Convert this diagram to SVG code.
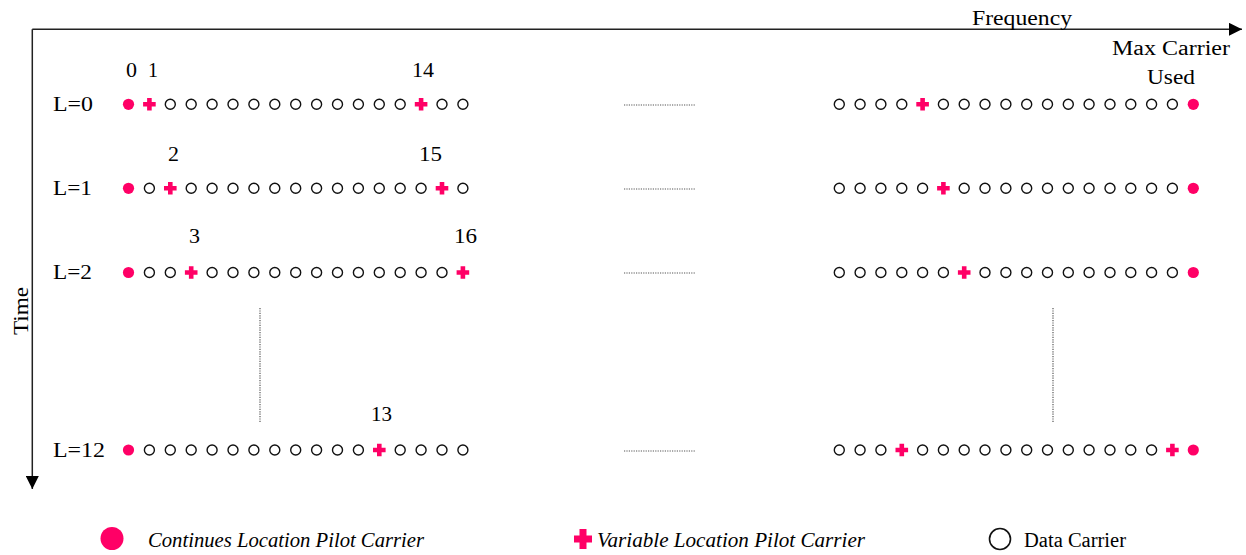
<svg xmlns="http://www.w3.org/2000/svg" xmlns:xlink="http://www.w3.org/1999/xlink" width="1246" height="555" viewBox="0 0 1246 555">
<style>
.t{font-family:"Liberation Serif","Times New Roman",serif;font-size:20px;fill:#000}
.i{font-style:italic}
.data{fill:none;stroke:#111;stroke-width:1.4}
.pil{fill:#FF0066}
.axis{stroke:#222;stroke-width:1.5;fill:none}
.dot{stroke:#555;stroke-width:1.2;stroke-dasharray:1.2 1.2;fill:none}
</style>
<defs>
<circle id="d" r="5" class="data"/>
<circle id="p" r="5.6" class="pil"/>
<path id="v" class="pil" d="M-2.3,-6.3H2.3V-2.3H6.3V2.3H2.3V6.3H-2.3V2.3H-6.3V-2.3H-2.3Z"/>
<marker id="ah" viewBox="0 0 10 10" refX="10" refY="5" markerWidth="13" markerHeight="13" markerUnits="userSpaceOnUse" orient="auto"><path d="M0,0L10,5L0,10Z" fill="#000"/></marker>
</defs>
<rect width="1246" height="555" fill="#fff"/>
<g id="connectors">
<path class="axis" d="M32.3,29.3H1242" marker-end="url(#ah)"/>
<path class="axis" d="M32.3,29.3V489" marker-end="url(#ah)"/>
<path class="dot" d="M624,105H696"/>
<path class="dot" d="M624,189H696"/>
<path class="dot" d="M624,273H696"/>
<path class="dot" d="M624,451H696"/>
<path class="dot" d="M260,308V422"/>
<path class="dot" d="M1053,308V422"/>
</g>
<g id="axis-labels">
<text class="t" x="972" y="25" textLength="100" lengthAdjust="spacingAndGlyphs">Frequency</text>
<text class="t" x="1112" y="55" textLength="118" lengthAdjust="spacingAndGlyphs">Max Carrier</text>
<text class="t" x="1147" y="84" textLength="48" lengthAdjust="spacingAndGlyphs">Used</text>
<text class="t" transform="translate(28,335) rotate(-90)" textLength="48" lengthAdjust="spacingAndGlyphs">Time</text>
</g>
<g id="row-L0">
<text class="t" x="53" y="111" textLength="40" lengthAdjust="spacingAndGlyphs">L=0</text>
<text class="t" x="126" y="77" textLength="11" lengthAdjust="spacingAndGlyphs">0</text>
<text class="t" x="148" y="77" textLength="10" lengthAdjust="spacingAndGlyphs">1</text>
<text class="t" x="412" y="77" textLength="22" lengthAdjust="spacingAndGlyphs">14</text>
<g transform="translate(0,104.3)">
<use href="#p" x="128.5"/><use href="#v" x="149.4"/><use href="#d" x="170.3"/><use href="#d" x="191.2"/><use href="#d" x="212.1"/><use href="#d" x="233"/><use href="#d" x="253.9"/><use href="#d" x="274.8"/><use href="#d" x="295.7"/><use href="#d" x="316.6"/><use href="#d" x="337.5"/><use href="#d" x="358.4"/><use href="#d" x="379.3"/><use href="#d" x="400.2"/><use href="#v" x="421.1"/><use href="#d" x="442"/><use href="#d" x="462.9"/>
<use href="#d" x="839.3"/><use href="#d" x="860.1"/><use href="#d" x="880.9"/><use href="#d" x="901.8"/><use href="#v" x="922.6"/><use href="#d" x="943.4"/><use href="#d" x="964.2"/><use href="#d" x="985"/><use href="#d" x="1005.9"/><use href="#d" x="1026.7"/><use href="#d" x="1047.5"/><use href="#d" x="1068.3"/><use href="#d" x="1089.1"/><use href="#d" x="1110"/><use href="#d" x="1130.8"/><use href="#d" x="1151.6"/><use href="#d" x="1172.4"/><use href="#p" x="1193.3"/>
</g>
</g>
<g id="row-L1">
<text class="t" x="53" y="195" textLength="39" lengthAdjust="spacingAndGlyphs">L=1</text>
<text class="t" x="168" y="161" textLength="11" lengthAdjust="spacingAndGlyphs">2</text>
<text class="t" x="419" y="161" textLength="23" lengthAdjust="spacingAndGlyphs">15</text>
<g transform="translate(0,188.3)">
<use href="#p" x="128.5"/><use href="#d" x="149.4"/><use href="#v" x="170.3"/><use href="#d" x="191.2"/><use href="#d" x="212.1"/><use href="#d" x="233"/><use href="#d" x="253.9"/><use href="#d" x="274.8"/><use href="#d" x="295.7"/><use href="#d" x="316.6"/><use href="#d" x="337.5"/><use href="#d" x="358.4"/><use href="#d" x="379.3"/><use href="#d" x="400.2"/><use href="#d" x="421.1"/><use href="#v" x="442"/><use href="#d" x="462.9"/>
<use href="#d" x="839.3"/><use href="#d" x="860.1"/><use href="#d" x="880.9"/><use href="#d" x="901.8"/><use href="#d" x="922.6"/><use href="#v" x="943.4"/><use href="#d" x="964.2"/><use href="#d" x="985"/><use href="#d" x="1005.9"/><use href="#d" x="1026.7"/><use href="#d" x="1047.5"/><use href="#d" x="1068.3"/><use href="#d" x="1089.1"/><use href="#d" x="1110"/><use href="#d" x="1130.8"/><use href="#d" x="1151.6"/><use href="#d" x="1172.4"/><use href="#p" x="1193.3"/>
</g>
</g>
<g id="row-L2">
<text class="t" x="53" y="279" textLength="39" lengthAdjust="spacingAndGlyphs">L=2</text>
<text class="t" x="189" y="243" textLength="11" lengthAdjust="spacingAndGlyphs">3</text>
<text class="t" x="454" y="243" textLength="23" lengthAdjust="spacingAndGlyphs">16</text>
<g transform="translate(0,272.5)">
<use href="#p" x="128.5"/><use href="#d" x="149.4"/><use href="#d" x="170.3"/><use href="#v" x="191.2"/><use href="#d" x="212.1"/><use href="#d" x="233"/><use href="#d" x="253.9"/><use href="#d" x="274.8"/><use href="#d" x="295.7"/><use href="#d" x="316.6"/><use href="#d" x="337.5"/><use href="#d" x="358.4"/><use href="#d" x="379.3"/><use href="#d" x="400.2"/><use href="#d" x="421.1"/><use href="#d" x="442"/><use href="#v" x="462.9"/>
<use href="#d" x="839.3"/><use href="#d" x="860.1"/><use href="#d" x="880.9"/><use href="#d" x="901.8"/><use href="#d" x="922.6"/><use href="#d" x="943.4"/><use href="#v" x="964.2"/><use href="#d" x="985"/><use href="#d" x="1005.9"/><use href="#d" x="1026.7"/><use href="#d" x="1047.5"/><use href="#d" x="1068.3"/><use href="#d" x="1089.1"/><use href="#d" x="1110"/><use href="#d" x="1130.8"/><use href="#d" x="1151.6"/><use href="#d" x="1172.4"/><use href="#p" x="1193.3"/>
</g>
</g>
<g id="row-L12">
<text class="t" x="53" y="457" textLength="52" lengthAdjust="spacingAndGlyphs">L=12</text>
<text class="t" x="371" y="421" textLength="21" lengthAdjust="spacingAndGlyphs">13</text>
<g transform="translate(0,450)">
<use href="#p" x="128.5"/><use href="#d" x="149.4"/><use href="#d" x="170.3"/><use href="#d" x="191.2"/><use href="#d" x="212.1"/><use href="#d" x="233"/><use href="#d" x="253.9"/><use href="#d" x="274.8"/><use href="#d" x="295.7"/><use href="#d" x="316.6"/><use href="#d" x="337.5"/><use href="#d" x="358.4"/><use href="#v" x="379.3"/><use href="#d" x="400.2"/><use href="#d" x="421.1"/><use href="#d" x="442"/><use href="#d" x="462.9"/>
<use href="#d" x="839.3"/><use href="#d" x="860.1"/><use href="#d" x="880.9"/><use href="#v" x="901.8"/><use href="#d" x="922.6"/><use href="#d" x="943.4"/><use href="#d" x="964.2"/><use href="#d" x="985"/><use href="#d" x="1005.9"/><use href="#d" x="1026.7"/><use href="#d" x="1047.5"/><use href="#d" x="1068.3"/><use href="#d" x="1089.1"/><use href="#d" x="1110"/><use href="#d" x="1130.8"/><use href="#d" x="1151.6"/><use href="#v" x="1172.4"/><use href="#p" x="1193.3"/>
</g>
</g>
<g id="legend-continuous">
<circle cx="112" cy="538.5" r="11.5" class="pil"/>
<text class="t i" x="148" y="547" textLength="276" lengthAdjust="spacingAndGlyphs">Continues Location Pilot Carrier</text>
</g>
<g id="legend-variable">
<path class="pil" d="M579.5,529H586.5V535.5H592V542.5H586.5V549H579.5V542.5H574V535.5H579.5Z"/>
<text class="t i" x="597" y="547" textLength="268" lengthAdjust="spacingAndGlyphs">Variable Location Pilot Carrier</text>
</g>
<g id="legend-data">
<circle cx="1000" cy="539" r="10.5" fill="none" stroke="#111" stroke-width="1.6"/>
<text class="t" x="1024" y="547" textLength="102" lengthAdjust="spacingAndGlyphs">Data Carrier</text>
</g>
</svg>
